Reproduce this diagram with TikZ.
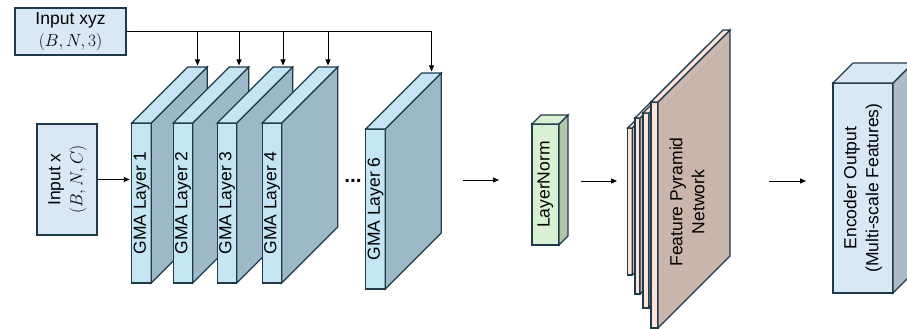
\documentclass[tikz,border=0pt]{standalone}
\usepackage[no-math]{fontspec}
\setsansfont{Liberation Sans}
\usepackage{graphicx}
\usetikzlibrary{arrows.meta,positioning,calc}
\definecolor{edgeslate}{HTML}{1F3A4A}
\definecolor{inblue}{HTML}{DAE8F6}
\definecolor{gmafront}{HTML}{C6E5F3}
\definecolor{gmaside}{HTML}{9DB8C6}
\definecolor{lnfront}{HTML}{D9F1D2}
\definecolor{lnside}{HTML}{AFC7A6}
\definecolor{fpnfront}{HTML}{FCE4D8}
\definecolor{fpnside}{HTML}{C9B5AB}
\definecolor{encside}{HTML}{AEBAC6}

% rotated (bottom-to-top) label, one or more lines
\newcommand{\vlabel}[1]{\rotatebox{90}{\begin{tabular}{@{}c@{}}#1\end{tabular}}}
% side and top faces behind a front node: #1 node, #2 depth, #3 side fill, #4 top fill
\newcommand{\slabfaces}[4]{%
  \filldraw[face, fill=#3] (#1.north east) -- ++(#2,-#2)
    -- ($(#1.south east)+(#2,-#2)$) -- (#1.south east) -- cycle;
  \filldraw[face, fill=#4] (#1.north west) -- ++(#2,-#2)
    -- ($(#1.north east)+(#2,-#2)$) -- (#1.north east) -- cycle;
}

\begin{document}
\begin{tikzpicture}[
    x=1pt, y=-1pt,
    every node/.style={font=\sffamily\fontsize{17.5}{22}\selectfont},
    face/.style={draw=edgeslate, line width=1.1pt},
    front/.style={face, rectangle, inner sep=0pt, outer sep=0pt, text centered},
    inbox/.style={front, fill=inblue},
    gma/.style={front, fill=gmafront, minimum width=19.5pt, minimum height=160pt},
    feed/.style={line width=1pt},
    arrow/.style={-{Triangle[length=6pt, width=5pt]}, line width=1pt}
]
\useasboundingbox (0,0) rectangle (907,329);

% Inputs
\node[inbox, minimum width=111pt, minimum height=47pt, align=center] (xyz) at (70.5,31.5)
  {Input xyz\\$(B,N,3)$};
\node[inbox, minimum width=60pt, minimum height=111pt] (inx) at (67,179.5)
  {\vlabel{Input x\\$(B,N,C)$}};

% GMA layers, back to front
\foreach \i/\x in {1/141.5, 2/183, 3/227, 4/272} {
  \node[gma] (gma\i) at (\x,203) {\rotatebox{90}{GMA Layer \i}};
  \slabfaces{gma\i}{56}{gmaside}{gmafront}
  \coordinate (top\i) at ($(gma\i.north)+(56,-56)$);
}
\node[gma] (gma6) at (375.5,209) {\rotatebox{90}{GMA Layer 6}};
\slabfaces{gma6}{56}{gmaside}{gmafront}
\coordinate (top6) at ($(gma6.north)+(56,-56)$);
\node[font=\sffamily\bfseries\fontsize{21}{22}\selectfont] (dots) at (353,181) {...};

% xyz feeds every layer
\draw[feed, arrow, shorten >=1.5pt] (xyz.east) -| (top6);
\foreach \i in {1,...,4}
  \draw[arrow, shorten >=1.5pt] (top\i |- xyz.east) -- (top\i);
\draw[arrow, shorten >=2pt] (inx.east) -- (inx.east -| gma1.west);

% LayerNorm
\node[front, fill=lnfront, minimum width=27pt, minimum height=121pt] (ln) at (545.5,184.5)
  {\rotatebox{90}{LayerNorm}};
\slabfaces{ln}{9}{lnside}{lnfront}

% Feature pyramid, smallest level first
\foreach \n/\x/\y/\w/\h in {1/630/201.5/4.5/147, 2/637.5/206/5/176, 3/646/210.5/6/195, 4/654.5/215/7/226} {
  \node[front, fill=fpnfront, minimum width=\w pt, minimum height=\h pt] (fpn\n) at (\x,\y) {};
  \slabfaces{fpn\n}{72}{fpnside}{fpnfront}
}
\node[rotate=90, align=center] (fpnlabel) at (687,202) {Feature Pyramid\\Network};

% Encoder output
\node[inbox, minimum width=60pt, minimum height=210pt] (enc) at (863,188)
  {\vlabel{Encoder Output\\(Multi-scale Features)}};
\slabfaces{enc}{20}{encside}{inblue}

% Arrows between stages
\coordinate (gmaout) at (463,180);
\coordinate (lnin)   at (499,180);
\coordinate (lnout)  at (581,181);
\coordinate (fpnin)  at (617,181);
\coordinate (fpnout) at (769,181);
\coordinate (encin)  at (806,181);
\draw[arrow] (gmaout) -- (lnin);
\draw[arrow] (lnout)  -- (fpnin);
\draw[arrow] (fpnout) -- (encin);

\end{tikzpicture}
\end{document}
